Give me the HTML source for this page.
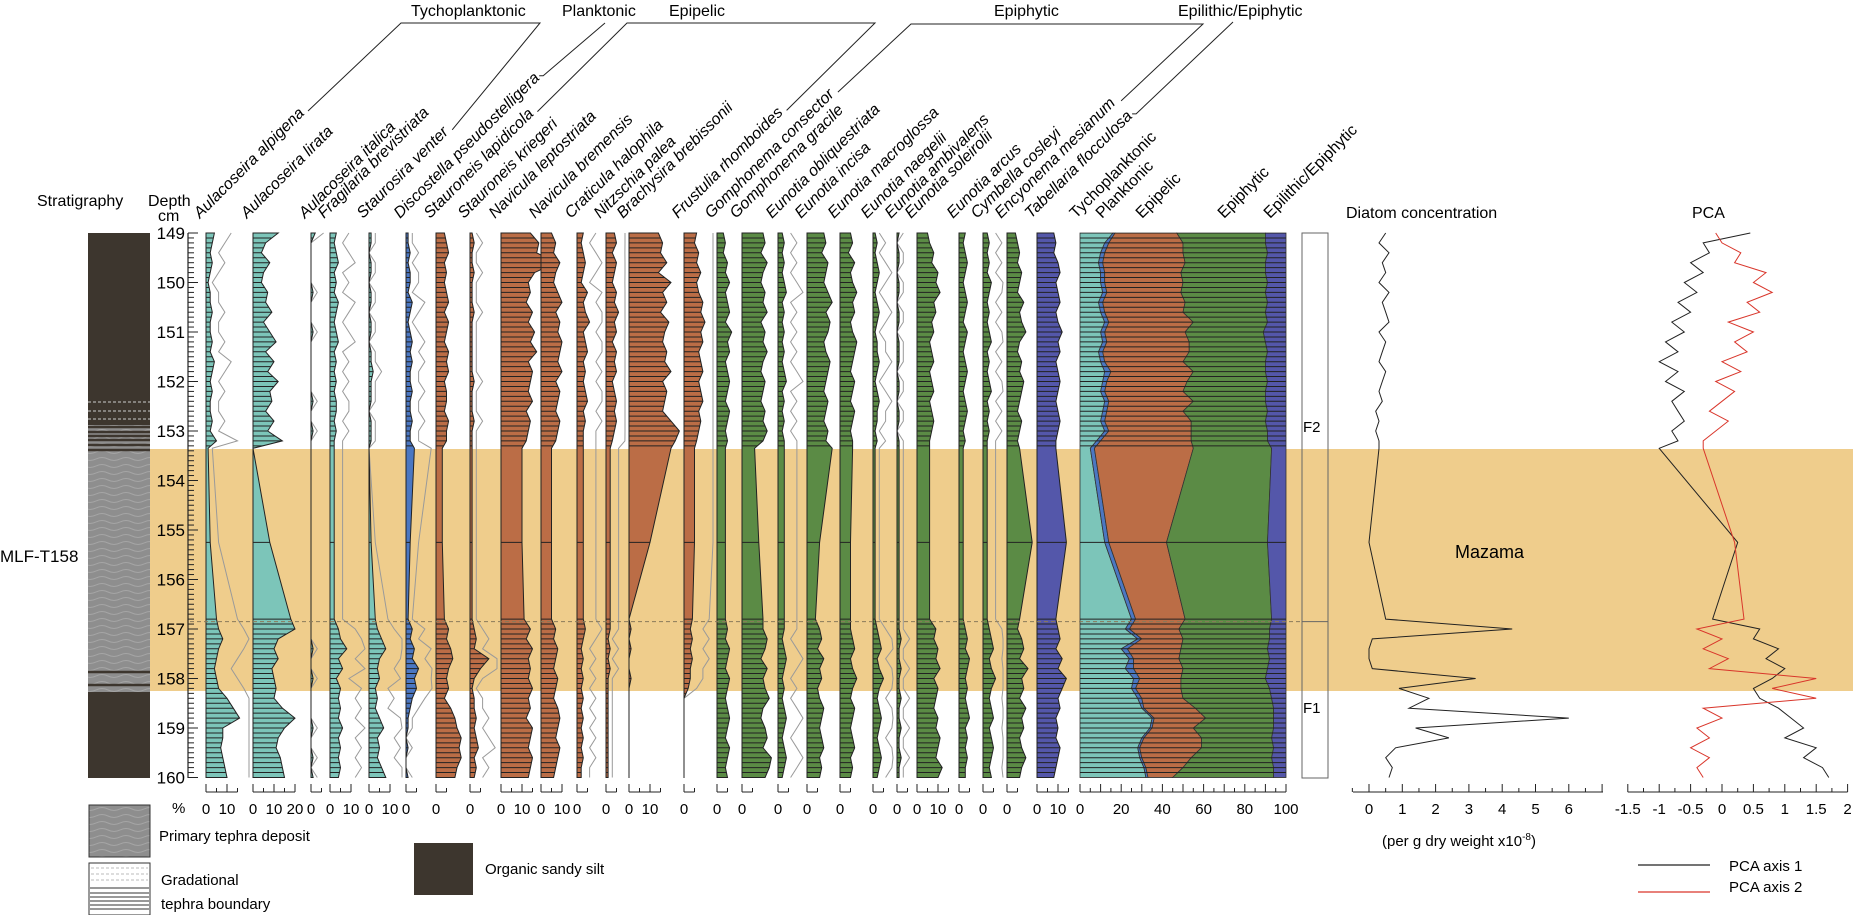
<!DOCTYPE html>
<html><head><meta charset="utf-8"><title>Diatom stratigraphy MLF-T158</title>
<style>
html,body{margin:0;padding:0;background:#fff;}
svg{display:block;font-family:"Liberation Sans",sans-serif;}
</style></head>
<body>
<svg id="chart" width="1853" height="915" viewBox="0 0 1853 915" xmlns="http://www.w3.org/2000/svg">
<defs>
<pattern id="wave" width="24" height="7" patternUnits="userSpaceOnUse">
<rect width="24" height="7" fill="#8e8e8e"/>
<path d="M0 4 Q6 1 12 4 T24 4" fill="none" stroke="#a5a5a5" stroke-width="1"/>
</pattern>
</defs>
<rect x="150" y="449" width="1703" height="242" fill="#efcd8c"/>
<g id="strat"></g>
<g id="plot"></g>
<text x="37" y="206" font-size="16">Stratigraphy</text>
<text x="148" y="206" font-size="16">Depth</text>
<text x="158" y="221" font-size="16">cm</text>
<text x="0" y="562" font-size="17">MLF-T158</text>
<text x="1455" y="558" font-size="18">Mazama</text>
<text x="1303" y="432" font-size="15">F2</text>
<text x="1303" y="713" font-size="15">F1</text>
<text x="1346" y="218" font-size="16">Diatom concentration</text>
<text x="1692" y="218" font-size="16">PCA</text>
<text x="172" y="813" font-size="15">%</text>
<text x="1382" y="846" font-size="15">(per g dry weight x10<tspan dy="-6" font-size="10">-8</tspan><tspan dy="6">)</tspan></text>
<g>
<line x1="1638" y1="865" x2="1710" y2="865" stroke="#222" stroke-width="1.2"/>
<text x="1729" y="871" font-size="15">PCA axis 1</text>
<line x1="1638" y1="892" x2="1710" y2="892" stroke="#d9362b" stroke-width="1.2"/>
<text x="1729" y="892" font-size="15">PCA axis 2</text>
</g>
<g>
<rect x="89" y="805" width="61" height="52" fill="url(#wave)" stroke="#333"/>
<text x="159" y="841" font-size="15">Primary tephra deposit</text>
<rect x="89" y="863" width="61" height="52" fill="#fff" stroke="#333"/>
<g id="gradlines"></g>
<text x="161" y="885" font-size="15">Gradational</text>
<text x="161" y="909" font-size="15">tephra boundary</text>
<rect x="414" y="843" width="59" height="52" fill="#3d362e"/>
<text x="485" y="874" font-size="15">Organic sandy silt</text>
</g>
</svg>
<script>
const depths = [149.0,149.2,149.4,149.6,149.8,150.0,150.2,150.4,150.6,150.8,151.0,151.2,151.4,151.6,151.8,152.0,152.2,152.4,152.6,152.8,153.0,153.2,153.35,155.25,156.8,157.0,157.2,157.4,157.6,157.8,158.0,158.2,158.4,158.6,158.8,159.0,159.2,159.4,159.6,159.8,160.0];
const depthTicks = [149,150,151,152,153,154,155,156,157,158,159,160];
const alpigena = [4,3,2,3,2,1,2,2,3,2,2,3,2,4,3,2,3,2,2,3,2,5, 1,2,5, 6,8,6,5,4,5,6,10,13,16,8,8,7,8,9,10];
const lirata = [12,6,4,8,5,4,7,6,9,5,8,11,6,10,7,12,8,9,6,10,7,14, 0,8,18, 20,12,10,12,9,10,11,10,14,20,15,12,11,13,14,15];
const italica = [2,0,0,0,0,0,1,0,0,0,1,0,0,0,0,0,0,1,0,0,1,0, 0,0,0, 0,0,1,0,0,1,0,0,0,0,1,0,0,1,0,1];
const fragilaria = [3,2,3,4,2,3,2,4,3,2,3,4,2,3,2,3,2,3,3,2,3,2, 2,2,2, 4,5,8,4,6,3,5,4,5,4,6,4,5,4,5,4];
const staurosira = [1,1,0,1,1,0,1,1,0,1,1,0,1,1,2,1,1,1,0,1,1,1, 0,1,3, 4,6,8,5,4,5,3,4,3,5,7,4,5,4,6,8];
const discostella = [1,1,2,1,2,2,1,3,2,1,2,3,2,3,2,2,3,2,2,3,2,2, 4,2,1, 3,2,4,3,6,4,5,3,2,1,1,0,1,0,0,1];
const lapidicola = [4,5,6,4,5,4,5,6,4,6,5,4,6,5,6,4,5,5,4,6,5,5, 3,3,4, 6,5,7,8,6,5,6,4,7,9,10,12,11,12,10,9];
const kriegeri = [1,2,1,1,2,1,1,1,2,1,1,1,1,1,1,2,1,1,1,2,1,1, 1,1,1, 2,3,2,9,5,2,1,2,2,3,2,3,4,2,3,2];
const leptostriata = [14,18,17,26,16,13,14,12,15,13,16,14,17,13,15,14,13,15,12,14,13,12, 10,10,11, 14,12,15,13,14,13,15,13,14,12,15,14,13,15,14,13];
const bremensis = [5,7,6,9,7,6,8,10,7,9,8,10,9,8,10,7,9,8,7,9,8,7, 5,5,5, 7,6,8,7,6,8,7,6,8,9,8,7,9,8,7,6];
const craticula = [3,2,3,4,3,2,5,3,4,6,3,4,5,3,4,3,4,5,3,4,3,3, 3,3,3, 4,3,2,3,2,3,2,3,2,3,2,3,2,3,2,2];
const nitzschia = [4,5,3,5,4,3,5,4,6,4,5,3,5,4,5,3,4,5,4,5,4,3, 2,2,2, 2,1,2,1,2,1,1,1,1,1,1,1,1,1,1,1];
const brachysira = [14,16,15,18,14,20,16,18,15,19,17,16,18,17,20,16,18,17,16,20,24,22, 20,10,0, 1,0,1,0,0,1,0,0,0,0,0,0,0,0,0,0];
const frustulia = [6,5,7,6,8,6,7,9,8,10,8,9,7,8,9,7,8,9,7,8,7,6, 5,5,4, 3,4,3,4,3,3,2,0,0,0,0,0,0,0,0,0];
const consector = [3,4,3,5,4,6,4,5,6,4,7,5,6,4,5,6,5,4,6,5,4,5, 4,4,4, 5,4,6,5,4,6,5,4,5,6,5,4,6,5,4,5];
const gracile = [10,11,9,12,10,9,11,10,12,9,11,10,12,10,9,11,10,9,11,10,12,10, 6,8,10, 10,12,11,9,12,10,11,13,10,9,11,12,10,14,13,11];
const obliquestriata = [2,3,2,3,2,3,4,2,3,2,3,2,3,2,3,4,2,3,2,3,2,3, 3,3,3, 3,2,3,4,3,2,3,2,3,4,3,2,3,4,3,2];
const incisa = [8,9,7,10,9,8,10,12,9,11,10,8,9,11,10,9,8,10,9,8,10,9, 12,6,4, 6,7,5,8,6,7,5,6,8,7,6,7,8,6,7,6];
const macroglossa = [5,6,4,7,5,6,8,6,7,5,6,8,7,6,5,7,6,5,7,6,5,6, 6,5,5, 5,6,7,5,6,8,6,5,7,6,5,6,7,5,6,5];
const naegelii = [1,2,1,2,3,2,1,2,3,2,1,2,2,3,2,1,2,3,2,2,1,2, 1,1,1, 2,3,4,2,3,5,3,2,3,4,3,2,3,4,3,2];
const ambivalens = [1,0,1,1,0,1,1,0,1,1,0,1,1,1,0,1,1,0,1,1,0,1, 1,1,1, 1,2,1,1,2,1,1,2,1,1,2,1,1,2,1,1];
const soleirolii = [5,6,8,7,10,9,11,8,9,7,8,6,7,8,6,7,8,6,7,8,7,6, 6,6,6, 9,8,10,9,11,8,10,9,8,10,9,11,10,9,12,10];
const arcus = [3,2,3,4,3,2,3,4,3,2,4,3,2,3,4,3,2,3,4,3,2,3, 2,2,2, 3,4,3,5,4,3,4,3,4,5,3,4,3,4,3,3];
const cymbella = [2,3,2,3,2,4,3,2,3,2,3,4,2,3,2,3,4,2,3,2,3,2, 2,2,2, 3,4,5,3,4,6,4,3,4,5,3,4,5,4,3,4];
const encyonema = [4,5,6,5,7,6,5,8,6,7,9,6,5,7,6,8,7,6,5,7,6,5, 6,12,6, 5,7,8,6,10,7,8,6,9,7,8,6,7,9,7,6];
const tabellaria = [8,9,8,10,11,9,10,11,9,10,12,10,11,9,10,11,10,9,10,11,10,9, 9,14,9, 10,11,9,12,10,14,12,10,11,9,10,9,11,10,9,8];
const tychoplanktonic = [16,12,10,9,10,10,11,9,10,12,10,11,9,10,12,11,10,12,11,10,12,8, 5,12,25, 22,28,20,24,22,26,25,28,30,35,34,30,28,29,31,32];
const planktonic = [1,2,2,2,2,2,2,2,2,2,2,2,2,2,3,2,2,2,2,2,2,2, 2,2,2, 2,2,3,2,4,3,2,2,1,1,1,1,1,1,1,1];
const epipelic = [30,36,38,40,37,38,36,40,38,41,39,40,42,38,40,39,38,41,37,42,40,44, 48,28,24, 24,20,26,22,24,20,22,20,25,25,20,28,30,24,18,12];
const epilithic = [10,10,9,10,10,9,10,9,10,9,11,10,9,10,10,9,10,10,9,10,9,9, 7,9,7, 8,8,9,8,9,10,8,7,6,6,6,7,6,7,6,6];
const concentration = [0.5,0.3,0.6,0.4,0.5,0.3,0.6,0.4,0.5,0.6,0.3,0.5,0.4,0.3,0.5,0.4,0.3,0.4,0.2,0.3,0.2,0.3, 0.3,0.0,0.5, 4.3,0.1,0.0,0.0,0.1,3.2,0.9,1.8,1.2,6.0,1.4,2.4,0.8,0.5,0.7,0.6];
const pca1 = [0.45,-0.3,-0.2,-0.5,-0.3,-0.6,-0.4,-0.7,-0.5,-0.8,-0.6,-0.9,-0.7,-1.0,-0.7,-0.9,-0.6,-0.8,-0.7,-0.6,-0.8,-0.7, -1.0,0.25,-0.15, 0.6,0.5,0.9,0.7,1.0,0.8,0.5,0.6,0.9,1.1,1.3,1.0,1.5,1.3,1.6,1.7];
const pca2 = [-0.1,0.0,0.3,0.2,0.7,0.5,0.8,0.4,0.6,0.1,0.5,0.2,0.4,0.0,0.3,-0.1,0.2,0.0,-0.2,0.1,-0.1,-0.3, -0.3,0.2,0.35, -0.4,0.0,-0.3,0.1,-0.2,1.5,0.8,1.5,-0.3,0.0,-0.4,-0.2,-0.5,-0.2,-0.4,-0.3];
const concTicks = [0,1,2,3,4,5,6];
const pcaTicks = [-1.5,-1,-0.5,0,0.5,1,1.5,2];
const stackTicks = [0,20,40,60,80,100];
const speciesTickLabels = [[0,10],[0,10,20],[0],[0,10],[0,10],[0],[0],[0],[0,10],[0,10],[0],[0],[0,10],[0],[0],[0],[0],[0],[0],[0],[0],[0,10],[0],[0],[0],[0,10]];

const TEAL='#7cc5b9', BLUE='#4b77c2', ORANGE='#bb6d46', GREEN='#5b8b45', PURP='#5457aa';
const speciesNames = ['Aulacoseira alpigena','Aulacoseira lirata','Aulacoseira italica','Fragilaria brevistriata','Staurosira venter','Discostella pseudostelligera','Stauroneis lapidicola','Stauroneis kriegeri','Navicula leptostriata','Navicula bremensis','Craticula halophila','Nitzschia palea','Brachysira brebissonii','Frustulia rhomboides','Gomphonema consector','Gomphonema gracile','Eunotia obliquestriata','Eunotia incisa','Eunotia macroglossa','Eunotia naegelii','Eunotia ambivalens','Eunotia soleirolii','Eunotia arcus','Cymbella cosleyi','Encyonema mesianum','Tabellaria flocculosa'];
const speciesData = [alpigena,lirata,italica,fragilaria,staurosira,discostella,lapidicola,kriegeri,leptostriata,bremensis,craticula,nitzschia,brachysira,frustulia,consector,gracile,obliquestriata,incisa,macroglossa,naegelii,ambivalens,soleirolii,arcus,cymbella,encyonema,tabellaria];
const colX = [206,253,311,330,369,406,436,470,501,541,577,606,629,684,717,742,778,807,840,873,897,917,959,983,1007,1037];
const colC = [TEAL,TEAL,TEAL,TEAL,TEAL,BLUE,ORANGE,ORANGE,ORANGE,ORANGE,ORANGE,ORANGE,ORANGE,ORANGE,GREEN,GREEN,GREEN,GREEN,GREEN,GREEN,GREEN,GREEN,GREEN,GREEN,GREEN,PURP];
const colEx = [1,0,1,1,1,1,0,1,0,0,1,1,0,1,0,0,1,0,0,1,1,0,0,1,0,0];

const NS='http://www.w3.org/2000/svg';
const svg=document.getElementById('chart');
const plot=document.getElementById('plot');
function el(tag,attrs,parent){const e=document.createElementNS(NS,tag);for(const k in attrs)e.setAttribute(k,attrs[k]);(parent||plot).appendChild(e);return e;}
const Y0=233, PXCM=49.5, PXP=2.1;
function yScale(d){return Y0+(d-149)*PXCM;}
function xPct(bx,v){return bx+v*PXP;}
function xStack(p){return 1080+p*2.06;}
function xConc(v){return 1369+v*33.3;}
function xPca(v){return 1722+v*62.8;}
const MZ0=153.36, MZ1=158.25, DASH=156.85;

const st=document.getElementById('strat');
let r;
r=el('rect',{x:88,y:233,width:62,height:192,fill:'#3d362e'},st);


r=el('rect',{x:88,y:425,width:62,height:267,fill:'url(#wave)'},st);


[402,411,419].forEach(yy=>{const l=el('line',{x1:88,x2:150,y1:yy,y2:yy,stroke:'#ccc','stroke-dasharray':'3 2','stroke-width':1},st);

});
[427,432,436,440,445,450,672,685].forEach(yy=>{const l=el('line',{x1:88,x2:150,y1:yy,y2:yy,stroke:'#3d362e','stroke-width':2.5},st);

});
r=el('rect',{x:88,y:692,width:62,height:86,fill:'#3d362e'},st);


const gl=document.getElementById('gradlines');
[868,874,880].forEach(yy=>{const l=el('line',{x1:91,x2:148,y1:yy,y2:yy,stroke:'#bbb','stroke-dasharray':'3 2'},gl);

});
[888,893,897,901,905,909].forEach(yy=>{const l=el('line',{x1:90,x2:149,y1:yy,y2:yy,stroke:'#999','stroke-width':2},gl);

});

const ax=el('line',{x1:188,x2:188,y1:233,y2:778,stroke:'#222','stroke-width':1.2});


for(let i=0;i<=110;i++){const d=149+i/10, yy=yScale(d), major=(i%10===0);
const t=el('line',{x1:188,x2:major?198:194,y1:yy,y2:yy,stroke:'#222','stroke-width':1});

}
depthTicks.forEach(d=>{const t=el('text',{x:185,y:yScale(d)+6,'font-size':17,'text-anchor':'end'});t.textContent=d;

});

const stripeDepths=[];
for(let i=0;i<=110;i++){const d=149+i/10;if(d<MZ0-0.01||d>DASH-0.06)stripeDepths.push(d);}
stripeDepths.push(155.25);
let clipId=0;
function stripes(pointsStr,x1,x2){
 const id='c'+(clipId++);
 const cp=el('clipPath',{id:id});
 el('polygon',{points:pointsStr},cp);
 const g=el('g',{'clip-path':'url(#'+id+')'});
 
 
 stripeDepths.forEach(d=>{el('line',{x1:x1,x2:x2,y1:yScale(d),y2:yScale(d),stroke:'#222','stroke-width':1},g);});
}

const labelEnds=[];
speciesData.forEach((vals,i)=>{
 const bx=colX[i];
 const nextX=(i<colX.length-1?colX[i+1]:1078)-4;
 if(colEx[i]){
  const ep=depths.map((d,j)=>Math.min(xPct(bx,vals[j]*3),nextX).toFixed(1)+','+yScale(d).toFixed(1)).join(' ');
  const pl=el('polyline',{points:ep,fill:'none',stroke:'#9a9a9a','stroke-width':1});
  
  
 }
 const pts=[[bx,yScale(149)]];
 depths.forEach((d,j)=>pts.push([xPct(bx,vals[j]),yScale(d)]));
 pts.push([bx,yScale(160)]);
 const ps=pts.map(p=>p[0].toFixed(1)+','+p[1].toFixed(1)).join(' ');
 const poly=el('polygon',{points:ps,fill:colC[i],stroke:'#222','stroke-width':1});
 
 
 const mx=Math.max(...vals);
 stripes(ps,bx,bx+mx*PXP+2);
 const bl=el('line',{x1:bx,x2:bx,y1:233,y2:778,stroke:'#222','stroke-width':1});
 
 
 const labs=speciesTickLabels[i];
 const maxT=Math.max(5,labs[labs.length-1],Math.min(Math.ceil(mx/5)*5,labs[labs.length-1]+5));
 const a=el('line',{x1:bx,x2:xPct(bx,maxT),y1:792,y2:792,stroke:'#222'});
 
 
 for(let v=0;v<=maxT;v+=5){const t=el('line',{x1:xPct(bx,v),x2:xPct(bx,v),y1:792,y2:v%10===0?784:788,stroke:'#222'});
 
 }
 labs.forEach(v=>{const tx=el('text',{x:xPct(bx,v),y:814,'font-size':15,'text-anchor':'middle'});tx.textContent=v;
 
 });
 const lx=bx-6, ly=219;
 const lab=el('text',{x:lx,y:ly,'font-size':16,'font-style':'italic',transform:'rotate(-45 '+lx+' '+ly+')'});
 lab.textContent=speciesNames[i];
 
 
 const L=lab.getComputedTextLength?lab.getComputedTextLength():speciesNames[i].length*8;
 labelEnds.push([lx+L*0.7071+3,ly-L*0.7071-3]);
});

const cumT=[],cumP=[],cumE=[],cumR=[];
depths.forEach((d,j)=>{cumT.push(tychoplanktonic[j]);cumP.push(tychoplanktonic[j]+planktonic[j]);cumE.push(tychoplanktonic[j]+planktonic[j]+epipelic[j]);cumR.push(100-epilithic[j]);});
const zero=depths.map(()=>0), hund=depths.map(()=>100);
const layers=[[zero,cumT,TEAL,'tychoplanktonic-area'],[cumT,cumP,BLUE,'planktonic-area'],[cumP,cumE,ORANGE,'epipelic-area'],[cumE,cumR,GREEN,'epiphytic-area'],[cumR,hund,PURP,'epilithic-area']];
layers.forEach(L=>{
 const a=L[0],b=L[1];
 const pts=[];
 depths.forEach((d,j)=>pts.push(xStack(b[j]).toFixed(1)+','+yScale(d).toFixed(1)));
 for(let j=depths.length-1;j>=0;j--)pts.push(xStack(a[j]).toFixed(1)+','+yScale(depths[j]).toFixed(1));
 const p=el('polygon',{points:pts.join(' '),fill:L[2],stroke:'#333','stroke-width':0.8});
 
 
});
stripes(xStack(0)+','+yScale(149)+' '+xStack(100)+','+yScale(149)+' '+xStack(100)+','+yScale(160)+' '+xStack(0)+','+yScale(160),xStack(0),xStack(100));
let sa=el('line',{x1:xStack(0),x2:xStack(100),y1:792,y2:792,stroke:'#222'});


for(let v=0;v<=100;v+=5){const t=el('line',{x1:xStack(v),x2:xStack(v),y1:792,y2:v%10===0?784:788,stroke:'#222'});

}
stackTicks.forEach(v=>{const t=el('text',{x:xStack(v),y:814,'font-size':15,'text-anchor':'middle'});t.textContent=v;

});
[['Tychoplanktonic',1076],['Planktonic',1102],['Epipelic',1142],['Epiphytic',1224],['Epilithic/Epiphytic',1270]].forEach(s=>{
 const t=el('text',{x:s[1],y:219,'font-size':16,transform:'rotate(-45 '+s[1]+' 219)'});t.textContent=s[0];
 
 });

let zb=el('rect',{x:1302,y:233,width:26,height:545,fill:'none',stroke:'#666'});


let zl=el('line',{x1:1302,x2:1328,y1:yScale(DASH),y2:yScale(DASH),stroke:'#666'});


let dl=el('line',{x1:190,x2:1302,y1:yScale(DASH),y2:yScale(DASH),stroke:'#8a7a5a','stroke-dasharray':'4 3','stroke-width':1});



let cp=el('polyline',{points:depths.map((d,j)=>xConc(concentration[j]).toFixed(1)+','+yScale(d).toFixed(1)).join(' '),fill:'none',stroke:'#222','stroke-width':1});


let ca=el('line',{x1:1353,x2:1603,y1:792,y2:792,stroke:'#222'});


for(let v=-0.5;v<=7;v+=0.5){const t=el('line',{x1:xConc(v),x2:xConc(v),y1:792,y2:Number.isInteger(v)?784:788,stroke:'#222'});

}
concTicks.forEach(v=>{const t=el('text',{x:xConc(v),y:814,'font-size':15,'text-anchor':'middle'});t.textContent=v;

});

let p1=el('polyline',{points:depths.map((d,j)=>xPca(pca1[j]).toFixed(1)+','+yScale(d).toFixed(1)).join(' '),fill:'none',stroke:'#222','stroke-width':1});


let p2=el('polyline',{points:depths.map((d,j)=>xPca(pca2[j]).toFixed(1)+','+yScale(d).toFixed(1)).join(' '),fill:'none',stroke:'#d9362b','stroke-width':1});


let pa=el('line',{x1:xPca(-1.5),x2:xPca(2),y1:792,y2:792,stroke:'#222'});


for(let v=-1.5;v<=2.001;v+=0.25){const t=el('line',{x1:xPca(v),x2:xPca(v),y1:792,y2:(Math.abs(v*2-Math.round(v*2))<0.01)?784:788,stroke:'#222'});

}
pcaTicks.forEach(v=>{const t=el('text',{x:xPca(v),y:814,'font-size':15,'text-anchor':'middle'});t.textContent=v;

});

function line(pts,name){const p=el('polyline',{points:pts.map(q=>q[0].toFixed(1)+','+q[1].toFixed(1)).join(' '),fill:'none',stroke:'#222','stroke-width':1});

}
function header(txt,x){const t=el('text',{x:x,y:16,'font-size':16});t.textContent=txt;

}
header('Tychoplanktonic',411);header('Planktonic',562);header('Epipelic',669);header('Epiphytic',994);header('Epilithic/Epiphytic',1178);
const E=labelEnds;
line([E[0],[401,23],[540,23],E[4]],'tychoplanktonic-bracket');
line([[E[5][0]-4,E[5][1]],E[5],[605,23]],'planktonic-bracket');
line([E[6],[627,23],[875,23],E[13]],'epipelic-bracket');
line([E[14],[911,24],[1203,24],[E[24][0]+2,E[24][1]]],'epiphytic-bracket');
line([[E[25][0]-4,E[25][1]],E[25],[1233,22]],'epilithic-bracket');
</script>
</body></html>
